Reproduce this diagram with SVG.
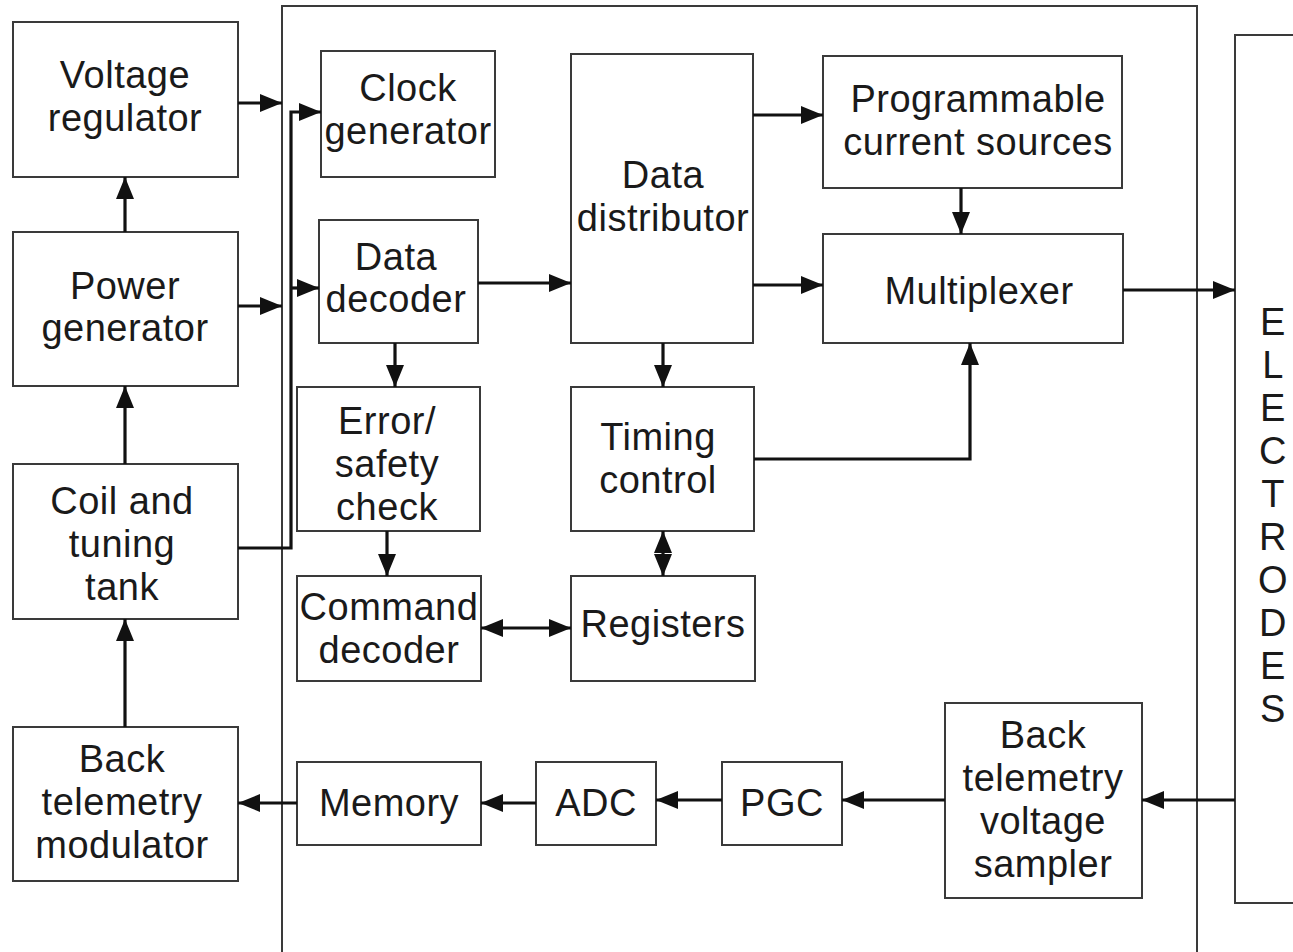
<svg xmlns="http://www.w3.org/2000/svg" width="1293" height="952" viewBox="0 0 1293 952">
<style>
.box{fill:none;stroke:#3a3a3a;stroke-width:2}
.c{fill:none;stroke:#111;stroke-width:3.2}
text{font-family:"Liberation Sans",Arial,sans-serif;font-size:38px;letter-spacing:0.5px;fill:#1a1a1a;text-anchor:middle}
</style>
<defs>
<marker id="a" viewBox="0 0 10 10" refX="10" refY="5" markerUnits="userSpaceOnUse" markerWidth="22" markerHeight="18" orient="auto-start-reverse" preserveAspectRatio="none">
<path d="M0,0 L10,5 L0,10 Z" fill="#111"/>
</marker>
</defs>
<rect width="1293" height="952" fill="#fff"/>
<g id="chip"><path class="box" d="M282,952 V6 H1197 V952"/></g>
<g id="electrodes"><path class="box" d="M1293,35 H1235 V903 H1293"/>
<text x="1273" y="335">E</text><text x="1273" y="378">L</text><text x="1273" y="421">E</text><text x="1273" y="464">C</text><text x="1273" y="507">T</text><text x="1273" y="550">R</text><text x="1273" y="593">O</text><text x="1273" y="636">D</text><text x="1273" y="679">E</text><text x="1273" y="722">S</text></g>
<g id="voltage-regulator"><rect class="box" x="13" y="22" width="225" height="155"/><text x="125" y="88">Voltage</text><text x="125" y="131">regulator</text></g>
<g id="power-generator"><rect class="box" x="13" y="232" width="225" height="154"/><text x="125" y="299">Power</text><text x="125" y="341">generator</text></g>
<g id="coil"><rect class="box" x="13" y="464" width="225" height="155"/><text x="122" y="514">Coil and</text><text x="122" y="557">tuning</text><text x="122" y="600">tank</text></g>
<g id="bt-modulator"><rect class="box" x="13" y="727" width="225" height="154"/><text x="122" y="772">Back</text><text x="122" y="815">telemetry</text><text x="122" y="858">modulator</text></g>
<g id="clock-generator"><rect class="box" x="321" y="51" width="174" height="126"/><text x="408" y="101">Clock</text><text x="408" y="144">generator</text></g>
<g id="data-decoder"><rect class="box" x="319" y="220" width="159" height="123"/><text x="396" y="270">Data</text><text x="396" y="312">decoder</text></g>
<g id="error-check"><rect class="box" x="297" y="387" width="183" height="144"/><text x="387" y="434">Error/</text><text x="387" y="477">safety</text><text x="387" y="520">check</text></g>
<g id="command-decoder"><rect class="box" x="297" y="576" width="184" height="105"/><text x="389" y="620">Command</text><text x="389" y="663">decoder</text></g>
<g id="data-distributor"><rect class="box" x="571" y="54" width="182" height="289"/><text x="663" y="188">Data</text><text x="663" y="231">distributor</text></g>
<g id="timing-control"><rect class="box" x="571" y="387" width="183" height="144"/><text x="658" y="450">Timing</text><text x="658" y="493">control</text></g>
<g id="registers"><rect class="box" x="571" y="576" width="184" height="105"/><text x="663" y="637">Registers</text></g>
<g id="current-sources"><rect class="box" x="823" y="56" width="299" height="132"/><text x="978" y="112">Programmable</text><text x="978" y="155">current sources</text></g>
<g id="multiplexer"><rect class="box" x="823" y="234" width="300" height="109"/><text x="979" y="304">Multiplexer</text></g>
<g id="bt-sampler"><rect class="box" x="945" y="703" width="197" height="195"/><text x="1043" y="748">Back</text><text x="1043" y="791">telemetry</text><text x="1043" y="834">voltage</text><text x="1043" y="877">sampler</text></g>
<g id="pgc"><rect class="box" x="722" y="762" width="120" height="83"/><text x="782" y="816">PGC</text></g>
<g id="adc"><rect class="box" x="536" y="762" width="120" height="83"/><text x="596" y="816">ADC</text></g>
<g id="memory"><rect class="box" x="297" y="762" width="184" height="83"/><text x="389" y="816">Memory</text></g>
<g id="connectors">
<path class="c" d="M238,103 H282" marker-end="url(#a)"/>
<path class="c" d="M238,306 H282" marker-end="url(#a)"/>
<path class="c" d="M125,232 V177" marker-end="url(#a)"/>
<path class="c" d="M125,464 V386" marker-end="url(#a)"/>
<path class="c" d="M125,727 V619" marker-end="url(#a)"/>
<path class="c" d="M238,548 H291 V112 H321" marker-end="url(#a)"/>
<path class="c" d="M291,288 H319" marker-end="url(#a)"/>
<path class="c" d="M478,283 H571" marker-end="url(#a)"/>
<path class="c" d="M395,343 V387" marker-end="url(#a)"/>
<path class="c" d="M387,531 V576" marker-end="url(#a)"/>
<path class="c" d="M481,628 H571" marker-start="url(#a)" marker-end="url(#a)"/>
<path class="c" d="M663,343 V387" marker-end="url(#a)"/>
<path class="c" d="M663,531 V576" marker-start="url(#a)" marker-end="url(#a)"/>
<path class="c" d="M753,115 H823" marker-end="url(#a)"/>
<path class="c" d="M753,285 H823" marker-end="url(#a)"/>
<path class="c" d="M961,188 V234" marker-end="url(#a)"/>
<path class="c" d="M754,459 H970 V343" marker-end="url(#a)"/>
<path class="c" d="M1123,290 H1235" marker-end="url(#a)"/>
<path class="c" d="M1235,800 H1142" marker-end="url(#a)"/>
<path class="c" d="M945,800 H842" marker-end="url(#a)"/>
<path class="c" d="M722,800 H656" marker-end="url(#a)"/>
<path class="c" d="M536,803 H481" marker-end="url(#a)"/>
<path class="c" d="M297,803 H238" marker-end="url(#a)"/>
</g>
</svg>
